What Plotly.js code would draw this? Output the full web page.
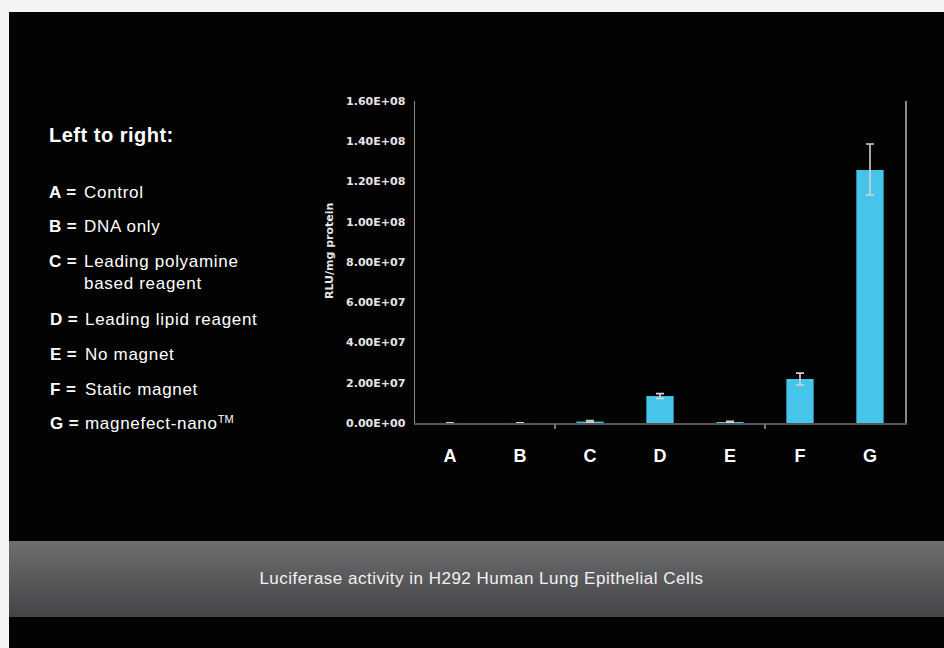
<!DOCTYPE html>
<html><head><meta charset="utf-8">
<script src="https://cdn.plot.ly/plotly-3.0.1.min.js"></script>
<style>
html,body{margin:0;padding:0;width:944px;height:648px;overflow:hidden;background:#f4f4f4;font-family:"Liberation Sans",Arial,sans-serif;}
#panel{position:absolute;left:9px;top:12px;width:935px;height:636px;background:#030303;}
#band{position:absolute;left:9px;top:541px;width:935px;height:76px;background:linear-gradient(#6e6e70,#434447);}
#caption{position:absolute;left:14px;width:935px;top:541px;height:76px;line-height:76px;text-align:center;color:#f2f2f2;font-size:17px;letter-spacing:0.5px;white-space:nowrap;}
#chart{position:absolute;left:0;top:0;width:944px;height:648px;}
.leg{position:absolute;left:49px;color:#fff;font-size:17px;letter-spacing:0.7px;line-height:17px;white-space:nowrap;}
.leg b{display:inline-block;width:35px;letter-spacing:0.4px;}
.leg sup{font-size:11px;letter-spacing:0;line-height:0;vertical-align:6px;}
.title{position:absolute;left:49px;top:125px;color:#fff;font-size:20px;line-height:20px;font-weight:bold;letter-spacing:0.5px;white-space:nowrap;}
</style>
</head><body>
<div id="panel"></div>
<div id="band"></div>
<div id="caption">Luciferase activity in H292 Human Lung Epithelial Cells</div>
<div class="title">Left to right:</div>
<div class="leg" style="top:184px"><b>A =</b>Control</div>
<div class="leg" style="top:218px"><b>B =</b>DNA only</div>
<div class="leg" style="top:253px"><b>C =</b>Leading polyamine</div>
<div class="leg" style="top:275px"><b></b>based reagent</div>
<div class="leg" style="top:311px;left:50px"><b>D =</b>Leading lipid reagent</div>
<div class="leg" style="top:346px;left:50px"><b>E =</b>No magnet</div>
<div class="leg" style="top:381px;left:50px"><b>F =</b>Static magnet</div>
<div class="leg" style="top:415px;left:50px"><b>G =</b>magnefect-nano<sup>TM</sup></div>
<div id="chart"></div>
<script>
const categories = ['A','B','C','D','E','F','G'];
const rlu      = [2e4, 3e4, 7e5, 1.34e7, 5e5, 2.19e7, 1.257e8];
const errPlus  = [5e4, 5e4, 5e5, 1.2e6, 4e5, 2.9e6, 1.29e7];
const errMinus = [5e4, 5e4, 5e5, 1.2e6, 4e5, 3.0e6, 1.24e7];
const yTicks = [0, 2e7, 4e7, 6e7, 8e7, 1e8, 1.2e8, 1.4e8, 1.6e8];
const dividerTicks = [1.5, 4.5];
const dividerBase = [0, 0];

function fmtE(v){
  if (v === 0) return '0.00E+00';
  const e = Math.floor(Math.log10(v) + 1e-9);
  const m = v / Math.pow(10, e);
  return m.toFixed(2) + 'E+' + String(e).padStart(2, '0');
}

const trace = {
  type: 'bar',
  x: categories,
  y: rlu,
  width: 0.39,
  marker: {color: '#46c4ea', line: {width: 0}},
  error_y: {type: 'data', symmetric: false, array: errPlus, arrayminus: errMinus,
            color: '#d4d4d4', thickness: 1.6, width: 4},
  hoverinfo: 'none'
};

const dividerTrace = {
  type: 'scatter', mode: 'none',
  x: dividerTicks, y: dividerBase,
  xaxis: 'x2', yaxis: 'y',
  hoverinfo: 'skip', showlegend: false
};

const layout = {
  width: 944, height: 648,
  margin: {l: 415, r: 39, t: 101, b: 225},
  paper_bgcolor: 'rgba(0,0,0,0)',
  plot_bgcolor: 'rgba(0,0,0,0)',
  showlegend: false,
  xaxis: {
    type: 'category', range: [-0.5, 6.5],
    showline: true, linecolor: '#555', linewidth: 2,
    ticks: '', showgrid: false, zeroline: false,
    tickfont: {family: 'Liberation Sans, Arial', size: 18, color: '#ffffff', weight: 'bold'},
    ticklabelstandoff: 15
  },
  xaxis2: {
    type: 'linear',
    overlaying: 'x', anchor: 'y', side: 'bottom', range: [-0.5, 6.5],
    tickmode: 'array', tickvals: dividerTicks,
    ticks: 'outside', ticklen: 5, tickwidth: 1.5, tickcolor: '#777',
    showticklabels: false, showgrid: false, zeroline: false, showline: false
  },
  yaxis: {
    range: [0, 1.6e8],
    showline: true, linecolor: '#8a8a8a', linewidth: 1.5, mirror: true,
    ticks: '', showgrid: false, zeroline: false,
    tickmode: 'array', tickvals: yTicks, ticktext: yTicks.map(fmtE),
    tickfont: {family: 'DejaVu Sans', size: 11, color: '#e6e6e6', weight: 'bold'},
    ticklabelstandoff: 6
  },
  annotations: [{
    text: 'RLU/mg protein', textangle: -90,
    xref: 'paper', yref: 'paper', x: -0.1755, y: 0.534,
    xanchor: 'center', yanchor: 'middle', showarrow: false,
    font: {family: 'DejaVu Sans', size: 11, color: '#e6e6e6', weight: 'bold'}
  }]
};

Plotly.newPlot('chart', [trace, dividerTrace], layout, {staticPlot: true, displayModeBar: false});
</script>
</body></html>
